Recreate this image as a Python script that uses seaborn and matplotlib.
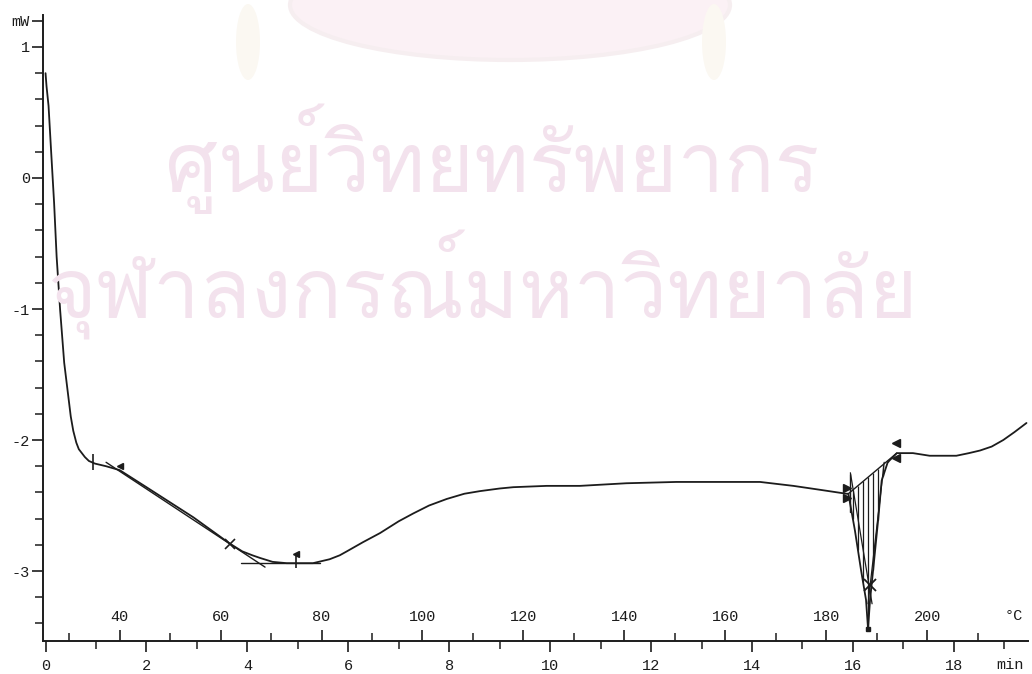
import numpy as np
import pandas as pd
import matplotlib
matplotlib.use("Agg")
import matplotlib.pyplot as plt
from matplotlib import font_manager
from matplotlib.ft2font import FT2Font
from matplotlib.patches import Ellipse
from matplotlib.ticker import FixedLocator
import seaborn as sns

# DSC heating run: time (min) vs. heat flow (mW)
time_min = [0.00, 0.02, 0.06, 0.11, 0.17, 0.22, 0.29, 0.37, 0.50, 0.55, 0.61, 0.66, 0.72,
            0.78, 0.86, 0.98, 1.20, 1.47, 2.00, 2.93, 3.65, 3.90, 4.10, 4.25, 4.50,
            4.78, 5.30, 5.63, 5.83, 5.97, 6.29, 6.63, 7.00, 7.29, 7.60, 7.95, 8.30,
            8.61, 9.00, 9.27, 9.93, 10.59, 11.51, 12.50, 13.30, 14.16, 14.82, 15.35,
            15.87, 15.91, 16.04, 16.16, 16.26, 16.30, 16.34, 16.42, 16.50, 16.57,
            16.69, 16.87, 17.19, 17.52, 18.05, 18.30, 18.52, 18.75, 18.98, 19.20, 19.44]
heat_flow_mw = [0.80, 0.70, 0.55, 0.21, -0.19, -0.60, -1.01, -1.41, -1.82, -1.93, -2.02, -2.07, -2.10,
                -2.13, -2.16, -2.18, -2.20, -2.23, -2.36, -2.59, -2.79, -2.85, -2.88, -2.90, -2.93,
                -2.94, -2.94, -2.91, -2.88, -2.85, -2.78, -2.71, -2.62, -2.56, -2.50, -2.45, -2.41,
                -2.39, -2.37, -2.36, -2.35, -2.35, -2.33, -2.32, -2.32, -2.32, -2.35, -2.38,
                -2.41, -2.41, -2.69, -2.99, -3.22, -3.44, -3.22, -2.92, -2.61, -2.31,
                -2.17, -2.10, -2.10, -2.12, -2.12, -2.10, -2.08, -2.05, -2.00, -1.94, -1.87]

# tick labels
mw_ticks = [-3, -2, -1, 0, 1, 1.2]
mw_labels = ["-3", "-2", "-1", "0", "1", "mW"]
min_ticks = [0, 2, 4, 6, 8, 10, 12, 14, 16, 18]
temp_ticks = [40, 60, 80, 100, 120, 140, 160, 180, 200]

# evaluation overlays: glass-transition tangents and melting-peak integration
tg_tangent_t = [1.20, 4.35]
tg_tangent_mw = [-2.17, -2.97]
tg_flat_t = [3.88, 5.44]
tg_flat_mw = [-2.94, -2.94]
peak_base_t = [15.91, 16.87]
peak_base_mw = [-2.41, -2.10]
hatch_t = [16.00, 16.10, 16.20, 16.30, 16.40, 16.50, 16.60, 16.70]
left_tan_t = [15.95, 16.38]
left_tan_mw = [-2.25, -3.25]
right_tan_t = [16.62, 16.30]
right_tan_mw = [-2.17, -3.25]

# watermark lines
wm_line1 = "ศูนย์วิทยทรัพยากร"
wm_line2 = "จุฬาลงกรณ์มหาวิทยาลัย"

T_START = 25.3   # degC at t = 0
RATE = 10.0      # K/min


def t_to_T(t):
    return T_START + RATE * np.asarray(t)


def T_to_t(T):
    return (np.asarray(T) - T_START) / RATE


def family_with(ch):
    """Name of an installed font family that has a glyph for ch, or None."""
    seen = set()
    for fe in font_manager.fontManager.ttflist:
        if fe.fname in seen:
            continue
        seen.add(fe.fname)
        try:
            if ord(ch) in FT2Font(fe.fname).get_charmap():
                return fe.name
        except Exception:
            continue
    return None


sns.set_theme(style="ticks")
plt.rcParams["font.family"] = ["Liberation Mono", "DejaVu Sans"]

W, H = 1032, 674
fig = plt.figure(figsize=(W / 100, H / 100), dpi=100)
fig.patch.set_facecolor("white")

# faint background watermark
ink_wm = "#f3e2ed"
fig.patches.append(Ellipse((510 / W, 1 - 5 / H), 440 / W, 110 / H, transform=fig.transFigure,
                           facecolor="#fbf1f5", edgecolor="#f6eef0", lw=3, zorder=0))
for xc in (248, 714):
    fig.patches.append(Ellipse((xc / W, 1 - 42 / H), 24 / W, 76 / H, transform=fig.transFigure,
                               facecolor="#fbf8f2", edgecolor="none", zorder=0))
thai_family = family_with("ศ")
if thai_family is not None:
    fig.text(492 / W, 1 - 192 / H, wm_line1, ha="center", va="baseline",
             fontsize=60, color=ink_wm, family=[thai_family], zorder=0)
    fig.text(482 / W, 1 - 318 / H, wm_line2, ha="center", va="baseline",
             fontsize=60, color=ink_wm, family=[thai_family], zorder=0)

ax = fig.add_axes([43 / W, 33 / H, 985 / W, 626 / H])
ax.patch.set_alpha(0)

ink = "#1c1c1c"
df = pd.DataFrame({"t": time_min, "mw": heat_flow_mw})
sns.lineplot(data=df, x="t", y="mw", ax=ax, color=ink, lw=1.3, estimator=None)

# Tg evaluation construction
ax.plot(tg_tangent_t, tg_tangent_mw, color=ink, lw=1.0)
ax.plot(tg_flat_t, tg_flat_mw, color=ink, lw=1.0)
ax.plot([0.94], [-2.17], marker="|", ms=12, color=ink, mew=1.2)
ax.plot([1.47], [-2.20], marker="<", ms=5, color=ink)
ax.plot([3.65], [-2.79], marker="x", ms=7, color=ink, mew=1.2)
ax.plot([4.96], [-2.92], marker="|", ms=10, color=ink, mew=1.2)
ax.plot([4.96], [-2.87], marker="<", ms=5, color=ink)

# melting peak: baseline, hatching down to the curve, tangents
ax.plot(peak_base_t, peak_base_mw, color=ink, lw=1.0)
base_at = np.interp(hatch_t, peak_base_t, peak_base_mw)
curve_at = np.interp(hatch_t, time_min, heat_flow_mw)
ax.vlines(hatch_t, curve_at, base_at, color=ink, lw=0.9)
ax.plot(left_tan_t, left_tan_mw, color=ink, lw=0.9)
ax.plot(right_tan_t, right_tan_mw, color=ink, lw=0.9)
ax.plot([15.94, 15.94], [-2.26, -2.55], color=ink, lw=1.0)
ax.plot([15.88], [-2.44], marker=">", ms=6, color=ink)
ax.plot([15.88], [-2.37], marker=">", ms=6, color=ink)
ax.plot([16.86], [-2.02], marker="<", ms=6, color=ink)
ax.plot([16.86], [-2.14], marker="<", ms=6, color=ink)
ax.plot([16.34], [-3.11], marker="x", ms=8, color=ink, mew=1.3)
ax.plot([16.30], [-3.44], marker="s", ms=3.5, color=ink)

ax.set_xlim(-0.05, 19.47)
ax.set_ylim(-3.534, 1.244)
for s in ("top", "right"):
    ax.spines[s].set_visible(False)
for s in ("left", "bottom"):
    ax.spines[s].set_color(ink)
    ax.spines[s].set_linewidth(1.4)

ax.set_yticks(mw_ticks)
ax.set_yticklabels(mw_labels)
ax.yaxis.set_minor_locator(FixedLocator([-3.4, -3.2, -2.8, -2.6, -2.4, -2.2, -1.8, -1.6, -1.4,
                                         -1.2, -0.8, -0.6, -0.4, -0.2, 0.2, 0.4, 0.6, 0.8]))
ax.set_xticks(min_ticks)
ax.set_xticklabels([str(v) for v in min_ticks])
ax.xaxis.set_minor_locator(FixedLocator([1, 3, 5, 7, 9, 11, 13, 15, 17, 19]))
ax.tick_params(axis="both", which="major", direction="out", length=8, width=1.2,
               color=ink, labelcolor=ink, labelsize=11, pad=1.5)
ax.tick_params(axis="x", which="major", pad=5)
ax.tick_params(axis="both", which="minor", direction="out", length=6, width=1.1, color=ink)
ax.set_xlabel("")
ax.set_ylabel("")

# temperature scale drawn on the same baseline, ticks pointing up
sec = ax.secondary_xaxis(0.0, functions=(t_to_T, T_to_t))
sec.set_alignment("top")
for s in sec.spines.values():
    s.set_visible(False)
sec.set_xticks(temp_ticks)
sec.set_xticklabels([str(v) for v in temp_ticks])
sec.xaxis.set_minor_locator(FixedLocator([30, 50, 70, 90, 110, 130, 150, 170, 190, 210]))
sec.tick_params(axis="x", which="major", direction="out", length=8, width=1.2,
                color=ink, labelcolor=ink, labelsize=11, pad=4)
sec.tick_params(axis="x", which="minor", direction="out", length=6, width=1.1, color=ink)

ax.annotate("min", xy=(19.12, 0), xycoords=("data", "axes fraction"),
            xytext=(0, -17), textcoords="offset points", ha="center", va="center",
            fontsize=11, color=ink)
ax.annotate("°C", xy=(19.18, 0), xycoords=("data", "axes fraction"),
            xytext=(0, 18), textcoords="offset points", ha="center", va="center",
            fontsize=11, color=ink)

fig.savefig("out.png", dpi=100, facecolor="white")
